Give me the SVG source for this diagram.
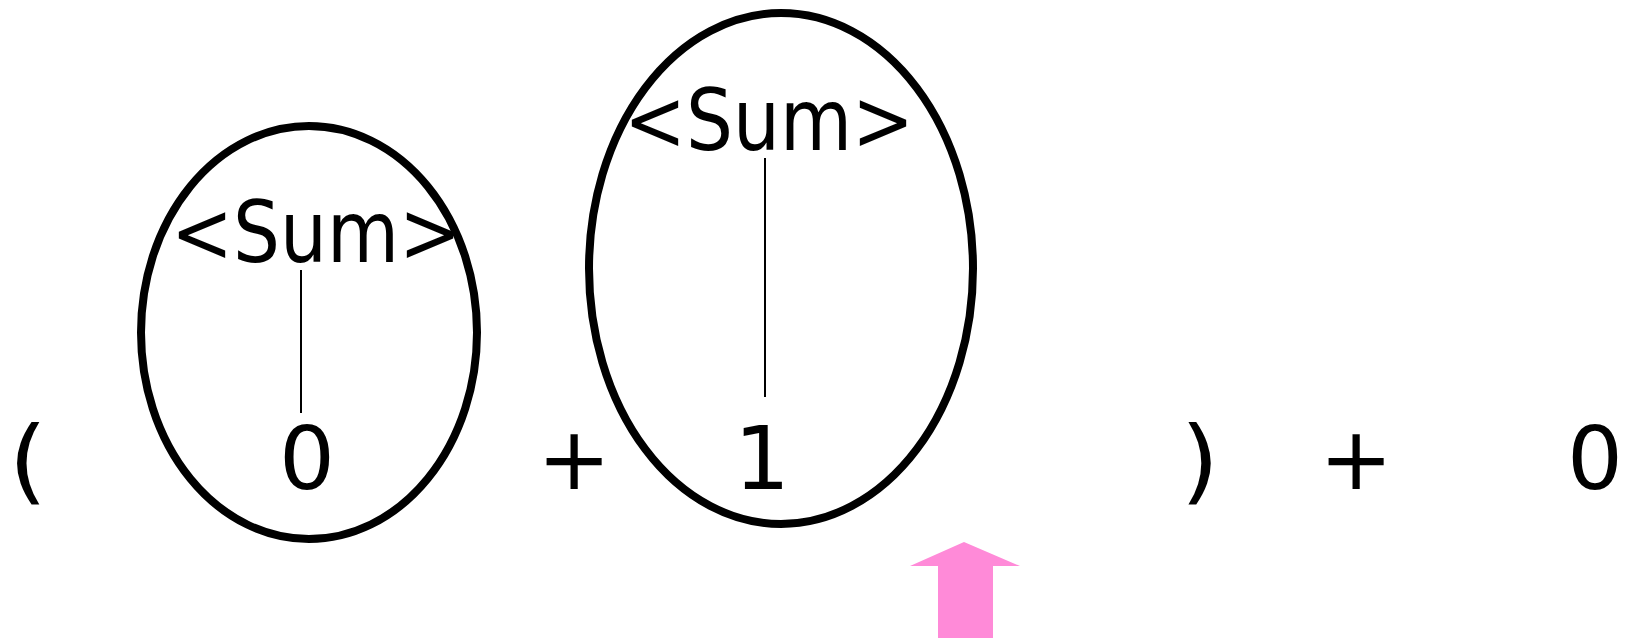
<svg xmlns="http://www.w3.org/2000/svg" width="1627" height="638" viewBox="0 0 1627 638">
<style>
.t{font-family:"DejaVu Sans","Verdana",sans-serif;font-size:88px;fill:#000;text-anchor:middle}
.s{font-size:86px}
.p{font-size:92px}
.e{fill:none;stroke:#000;stroke-width:8}
.c{stroke:#000;stroke-width:2}
</style>
<rect width="1627" height="638" fill="#fff"/>
<g id="tokens">
<text class="t p" transform="translate(28,493) scale(1.08,1)">(</text>
<text class="t" x="574" y="489">+</text>
<text class="t p" transform="translate(1200,493) scale(1.08,1)">)</text>
<text class="t" x="1356" y="489">+</text>
<text class="t" x="1595" y="489">0</text>
</g>
<g id="node-sum1">
<ellipse class="e" cx="309" cy="332.5" rx="168" ry="206.5"/>
<text class="t s" x="316" y="262" textLength="290" lengthAdjust="spacingAndGlyphs">&lt;Sum&gt;</text>
<text class="t" x="307" y="489">0</text>
</g>
<g id="node-sum2">
<ellipse class="e" cx="781" cy="268.5" rx="192" ry="255.5"/>
<text class="t s" x="769" y="150" textLength="290" lengthAdjust="spacingAndGlyphs">&lt;Sum&gt;</text>
<text class="t" x="762" y="489">1</text>
</g>
<g id="connectors">
<line class="c" x1="301" y1="270" x2="301" y2="413"/>
<line class="c" x1="765" y1="158" x2="765" y2="397"/>
</g>
<g id="cursor">
<polygon points="964,542 1020,566 993,566 993,638 938,638 938,566 910,566" fill="#ff8ad8"/>
</g>
</svg>
